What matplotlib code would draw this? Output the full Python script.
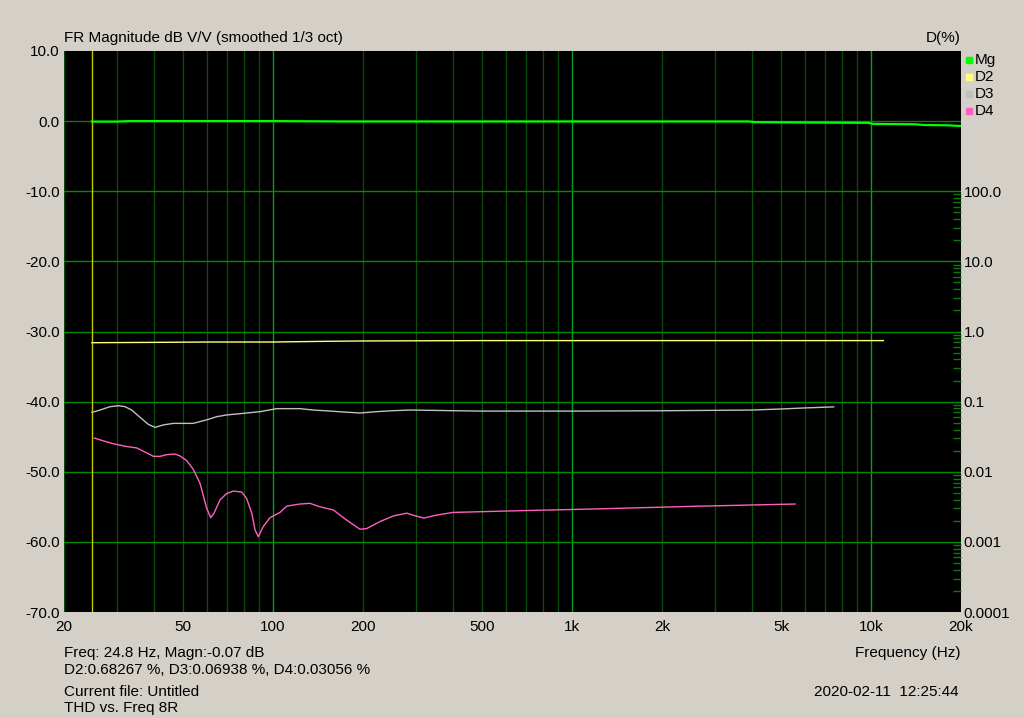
import numpy as np
import matplotlib.pyplot as plt
from matplotlib.ticker import FixedLocator, NullFormatter

plt.rcParams['font.family'] = ['Liberation Sans', 'DejaVu Sans']
fs = 11

bg = '#d4d0c8'

# Mg (dB)
mg_f = [24.8, 30, 33, 40, 100, 170, 500, 1000, 2000, 3900, 4100, 6000, 9800, 10200, 14000, 15000, 18000, 20000]
mg_db = [-0.07, -0.07, 0.0, 0.0, 0.0, -0.05, -0.05, -0.05, -0.05, -0.05, -0.15, -0.2, -0.25, -0.4, -0.45, -0.55, -0.6, -0.7]

# D2 (dB)
d2_f = [24.8, 40, 60, 100, 150, 200, 500, 1000, 3000, 11000]
d2_db = [-31.6, -31.55, -31.5, -31.5, -31.4, -31.35, -31.3, -31.3, -31.3, -31.3]

# D3 (dB)
d3_f = [24.8, 26.4, 28.5, 30.4, 32.0, 33.7, 35.9, 38.3, 40.3, 42.9, 46.4, 54.1, 60.0, 64.8, 70.0,
        79.6, 90.5, 102.9, 123, 136.4, 155, 171.9, 195.4, 222, 252.7, 287,
        500, 1000, 2000, 4000, 5000, 6000, 7500]
d3_db = [-41.53, -41.2, -40.72, -40.58, -40.72, -41.2, -42.24, -43.24, -43.67, -43.33, -43.1, -43.1,
         -42.6, -42.15, -41.9, -41.67, -41.43, -41.0, -41.0, -41.2, -41.34, -41.48, -41.62, -41.43,
         -41.29, -41.2, -41.35, -41.35, -41.3, -41.2, -41.05, -40.9, -40.75]

# D4 (dB)
d4_f = [25.3, 27.1, 29.2, 32.4, 35.0, 37.8, 39.8, 41.9, 44.1, 47.0, 48.9, 51.4, 54.1, 57.0, 60.0,
        61.9, 63.5, 66.5, 70.0, 73.7, 78.6, 81.6, 84.9, 87.1, 89.3, 92.8, 97.7, 105.5, 111.1,
        123, 132.9, 143.6, 159.2, 176.4, 195.4, 205.8, 228, 252.7, 280, 300, 320, 350, 400,
        600, 1200, 2700, 5570]
d4_db = [-45.2, -45.6, -46.0, -46.4, -46.6, -47.3, -47.8, -47.8, -47.56, -47.47, -47.75, -48.4,
         -49.65, -51.65, -55.2, -56.55, -55.9, -54.0, -53.1, -52.75, -52.9, -53.8, -55.9, -58.3,
         -59.26, -57.8, -56.55, -55.8, -54.9, -54.6, -54.5, -55.0, -55.45, -56.9, -58.2, -58.1,
         -57.1, -56.3, -55.9, -56.3, -56.6, -56.2, -55.8, -55.6, -55.3, -54.9, -54.6]

cursor_f = 24.8

x_ticks = [20, 50, 100, 200, 500, 1000, 2000, 5000, 10000, 20000]
x_labels = ['20', '50', '100', '200', '500', '1k', '2k', '5k', '10k', '20k']
y_ticks = [10, 0, -10, -20, -30, -40, -50, -60, -70]
r_ticks = [100, 10, 1, 0.1, 0.01, 0.001, 0.0001]
r_labels = ['100.0', '10.0', '1.0', '0.1', '0.01', '0.001', '0.0001']

legend_names = ['Mg', 'D2', 'D3', 'D4']
colors = ['#00ff00', '#ffff80', '#c0c0c0', '#ff60c0']

fig = plt.figure(figsize=(10.24, 7.18), dpi=100, facecolor=bg)
ax = fig.add_axes([0.0625, 0.1476, 0.876, 0.7814])
ax.set_facecolor('black')
ax.set_xscale('log')
ax.set_xlim(20, 20000)
ax.set_ylim(-70, 10)

# grid
minor_f = [m * d for d in [10, 100, 1000] for m in range(2, 10) if 20 <= m * d <= 20000]
for f in minor_f:
    ax.axvline(f, color='#0a4a0a', lw=1, zorder=1)
for f in [100, 1000, 10000]:
    ax.axvline(f, color='#00a020', lw=1, zorder=1)
for y in y_ticks[1:-1]:
    c = '#1f6f1f' if y == 0 else '#008a00'
    ax.axhline(y, color=c, lw=1, zorder=1)

ax.axvline(cursor_f, color='#c8c800', lw=1, zorder=2)

ax.plot(mg_f, mg_db, color=colors[0], lw=1.6, zorder=5)
ax.plot(d2_f, d2_db, color=colors[1], lw=1, zorder=4)
ax.plot(d3_f, d3_db, color=colors[2], lw=1, zorder=4)
ax.plot(d4_f, d4_db, color=colors[3], lw=1, zorder=4)

ax.xaxis.set_major_locator(FixedLocator(x_ticks))
ax.xaxis.set_minor_formatter(NullFormatter())
ax.xaxis.set_minor_locator(FixedLocator([]))
ax.set_xticklabels(x_labels)
ax.set_yticks(y_ticks)
ax.set_yticklabels(['%.1f' % y for y in y_ticks])
ax.tick_params(axis='both', length=0, labelsize=fs, colors='black', pad=3)
ax.tick_params(axis='x', pad=6)
for s in ax.spines.values():
    s.set_visible(False)

# right axis: D(%) log, 10 dB per decade, 0.0001 % at -70 dB
ax2 = ax.twinx()
ax2.set_yscale('log')
ax2.set_ylim(1e-4, 1e4)
ax2.yaxis.set_major_locator(FixedLocator(r_ticks))
ax2.set_yticklabels(r_labels)
r_minor = [m * d for d in [1e-4, 1e-3, 1e-2, 1e-1, 1, 10] for m in range(2, 10)]
ax2.yaxis.set_minor_locator(FixedLocator(r_minor))
ax2.yaxis.set_minor_formatter(NullFormatter())
ax2.tick_params(axis='y', which='major', length=0, labelsize=fs, pad=2)
ax2.tick_params(axis='y', which='minor', direction='in', length=6, width=1, color='#0c7a0c')
for s in ax2.spines.values():
    s.set_visible(False)

# legend
for i, (name, c) in enumerate(zip(legend_names, colors)):
    yy = 0.9164 - i * 0.0237
    fig.patches.append(plt.Rectangle((0.9435, yy - 0.0045), 0.0058, 0.0085,
                                     transform=fig.transFigure, color=c, figure=fig))
    fig.text(0.952, yy, name, fontsize=fs, va='center')

fig.text(0.0625, 0.937, 'FR Magnitude dB V/V (smoothed 1/3 oct)', fontsize=fs, va='bottom')
fig.text(0.938, 0.937, 'D(%)', fontsize=fs, va='bottom', ha='right')
fig.text(0.938, 0.085, 'Frequency (Hz)', fontsize=fs, ha='right')
fig.text(0.0625, 0.085, 'Freq: 24.8 Hz, Magn:-0.07 dB', fontsize=fs)
fig.text(0.0625, 0.061, 'D2:0.68267 %, D3:0.06938 %, D4:0.03056 %', fontsize=fs)
fig.text(0.0625, 0.031, 'Current file: Untitled', fontsize=fs)
fig.text(0.0625, 0.008, 'THD vs. Freq 8R', fontsize=fs)
fig.text(0.936, 0.031, '2020-02-11  12:25:44', fontsize=fs, ha='right')

fig.savefig('out.png', dpi=100, facecolor=bg)
